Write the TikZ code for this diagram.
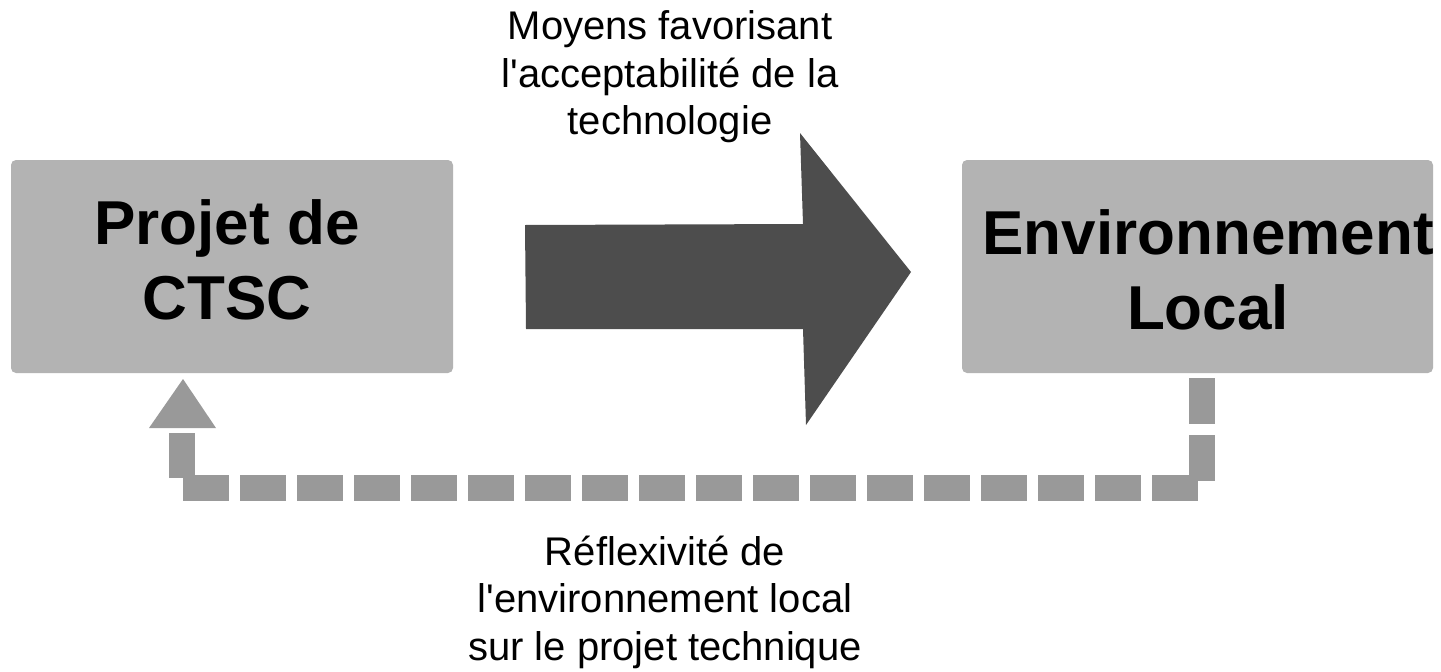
\documentclass[tikz,border=0pt]{standalone}
\usepackage{fontspec}
\setmainfont{Liberation Sans}[Ligatures=NoCommon]
\definecolor{boxgray}{HTML}{B3B3B3}
\definecolor{dashgray}{HTML}{999999}
\definecolor{arrowgray}{HTML}{4D4D4D}
\begin{document}
\begin{tikzpicture}[x=1pt,y=-1pt,
  box/.style={fill=boxgray, rounded corners=5pt, draw=none, inner sep=0pt},
  big/.style={font=\bfseries\fontsize{62}{75}\selectfont, align=center, inner sep=0pt},
  lbl/.style={font=\fontsize{40}{47.5}\selectfont, align=center, inner sep=0pt},
  feedback/.style={draw=dashgray, line width=26pt, dash pattern=on 20pt off 37pt, line cap=rect, line join=miter},
  bigarrow/.style={fill=arrowgray, draw=none}]
\useasboundingbox (0,0) rectangle (1441,672);
% boxes
\node[box, minimum width=442pt, minimum height=213pt] (p) at (232,266.5) {};
\node[box, minimum width=471pt, minimum height=213pt] (e) at (1197.5,266.5) {};
\node[big] (pt) at (227,260) {Projet de\\CTSC};
\node[big] (et) at (1208,270) {Environnement\\Local};
% labels
\node[lbl] (top) at (670,77) {Moyens favorisant\\l\textquotesingle acceptabilité de la\\technologie};
\node[lbl] (bot) at (665,602) {Réflexivité de\\l\textquotesingle environnement local\\sur le projet technique};
% big arrow
\fill[bigarrow] (525,225) -- (803,224) -- (800,133) -- (911,272) -- (806,425) -- (803,329) -- (526,329) -- cycle;
% feedback dashed connector
\coordinate (a) at (1202,391);
\coordinate (b) at (1202,488);
\coordinate (c) at (182,488);
\coordinate (d) at (182,446);
\coordinate (tipl) at (149,428);
\coordinate (tipr) at (216,428);
\coordinate (tip) at (183,379);
\draw[feedback] (a) -- (b) -- (c) -- (d);
\fill[dashgray] (tipl) -- (tipr) -- (tip) -- cycle;
\end{tikzpicture}
\end{document}
